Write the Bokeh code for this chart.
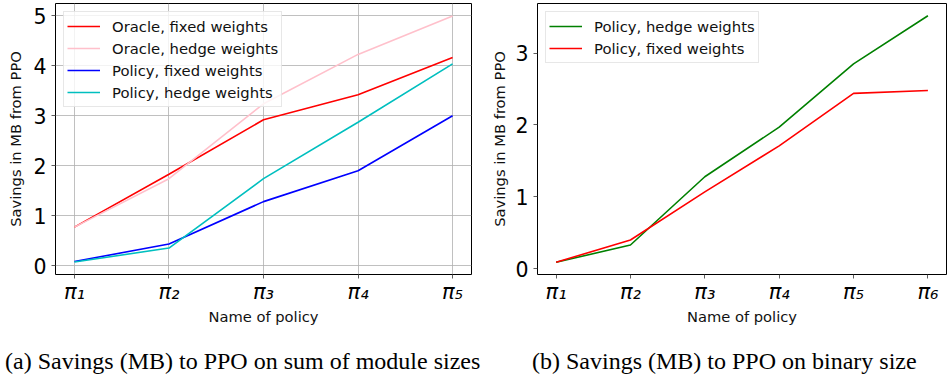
from bokeh.plotting import figure
from bokeh.models import FixedTicker, Legend, LegendItem, Div
from bokeh.layouts import row, column
from bokeh.embed import file_html
from bokeh.resources import INLINE

# ---- data ----
policies_a = [1, 2, 3, 4, 5]
labels_a = ["π₁", "π₂", "π₃", "π₄", "π₅"]
oracle_fixed = [0.77, 1.83, 2.92, 3.42, 4.17]
oracle_hedge = [0.77, 1.74, 3.24, 4.23, 5.00]
policy_fixed_a = [0.08, 0.43, 1.28, 1.90, 3.00]
policy_hedge_a = [0.07, 0.35, 1.74, 2.87, 4.04]
yticks_a = [0, 1, 2, 3, 4, 5]

policies_b = [1, 2, 3, 4, 5, 6]
labels_b = ["π₁", "π₂", "π₃", "π₄", "π₅", "π₆"]
policy_hedge_b = [0.09, 0.33, 1.28, 1.97, 2.85, 3.52]
policy_fixed_b = [0.09, 0.40, 1.07, 1.71, 2.44, 2.48]
yticks_b = [0, 1, 2, 3]

caption_a = "(a) Savings (MB) to PPO on sum of module sizes"
caption_b = "(b) Savings (MB) to PPO on binary size"

FONT = "DejaVu Sans"
SERIF = "Liberation Serif"


def style(p, xticks, xlabels, yticks, grid, ylabel_standoff):
    p.outline_line_color = "black"
    p.outline_line_width = 1
    for ax in (p.xaxis[0], p.yaxis[0]):
        ax.axis_line_color = None
        ax.major_tick_in = 0
        ax.major_tick_out = 4
        ax.major_tick_line_color = "#333333"
        ax.major_tick_line_width = 0.8
        ax.minor_tick_line_color = None
        ax.major_label_text_font = FONT
        ax.major_label_text_color = "black"
        ax.axis_label_text_font = FONT
        ax.axis_label_text_font_size = "14.7px"
        ax.axis_label_text_font_style = "normal"
        ax.axis_label_text_color = "#111111"
    p.xaxis[0].ticker = FixedTicker(ticks=xticks)
    p.xaxis[0].major_label_overrides = {t: l for t, l in zip(xticks, xlabels)}
    p.xaxis[0].major_label_text_font_size = "21px"
    p.xaxis[0].major_label_text_font_style = "italic"
    p.xaxis[0].major_label_standoff = 1
    p.xaxis[0].axis_label_standoff = 1
    p.yaxis[0].ticker = FixedTicker(ticks=yticks)
    p.yaxis[0].major_label_text_font_size = "20.5px"
    p.yaxis[0].major_label_standoff = 5
    p.yaxis[0].axis_label_standoff = ylabel_standoff
    if grid:
        for g in (p.xgrid[0], p.ygrid[0]):
            g.grid_line_color = "#b0b0b0"
            g.grid_line_width = 0.8
        p.xgrid[0].ticker = FixedTicker(ticks=xticks)
        p.ygrid[0].ticker = FixedTicker(ticks=yticks)
    else:
        p.xgrid.visible = False
        p.ygrid.visible = False


def make_legend(items):
    lg = Legend(items=items, location="top_left")
    lg.margin = 8
    lg.padding = 3
    lg.spacing = 0
    lg.label_height = 22
    lg.glyph_height = 22
    lg.glyph_width = 33
    lg.label_standoff = 12
    lg.label_text_font = FONT
    lg.label_text_font_size = "14.8px"
    lg.label_text_color = "#111111"
    lg.border_line_color = "#d0d0d0"
    lg.border_line_width = 1
    lg.background_fill_alpha = 0.8
    return lg


def caption(text, width, left):
    html = ('<div style="font-family:\'Liberation Serif\',serif;font-size:24px;'
            'line-height:24px;white-space:nowrap;color:black;'
            'margin-top:19px;margin-left:%dpx">%s</div>' % (left, text))
    return Div(text=html, width=width, height=44, margin=(0, 0, 0, 0))


FIG_H = 330

p1 = figure(width=480, height=FIG_H, output_backend="svg", toolbar_location=None,
            x_range=(0.8, 5.2), y_range=(-0.18, 5.25),
            min_border_left=55, min_border_right=9, min_border_top=3,
            min_border_bottom=56)
style(p1, policies_a, labels_a, yticks_a, True, 6)
p1.xaxis.axis_label = "Name of policy"
p1.yaxis.axis_label = "Savings in MB from PPO"
r1 = p1.line(policies_a, oracle_fixed, color="#ff0000", line_width=1.6)
r2 = p1.line(policies_a, oracle_hedge, color="#ffc0cb", line_width=1.6)
r3 = p1.line(policies_a, policy_fixed_a, color="#0000ff", line_width=1.6)
r4 = p1.line(policies_a, policy_hedge_a, color="#00bfbf", line_width=1.6)
p1.add_layout(make_legend([
    LegendItem(label="Oracle, fixed weights", renderers=[r1]),
    LegendItem(label="Oracle, hedge weights", renderers=[r2]),
    LegendItem(label="Policy, fixed weights", renderers=[r3]),
    LegendItem(label="Policy, hedge weights", renderers=[r4]),
]), "center")

p2 = figure(width=467, height=FIG_H, output_backend="svg", toolbar_location=None,
            x_range=(0.75, 6.25), y_range=(-0.08, 3.69),
            min_border_left=57, min_border_right=1, min_border_top=3,
            min_border_bottom=56)
style(p2, policies_b, labels_b, yticks_b, False, 4)
p2.xaxis.axis_label = "Name of policy"
p2.yaxis.axis_label = "Savings in MB from PPO"
s1 = p2.line(policies_b, policy_hedge_b, color="#008000", line_width=1.6)
s2 = p2.line(policies_b, policy_fixed_b, color="#ff0000", line_width=1.6)
p2.add_layout(make_legend([
    LegendItem(label="Policy, hedge weights", renderers=[s1]),
    LegendItem(label="Policy, fixed weights", renderers=[s2]),
]), "center")

d1 = caption(caption_a, 480, 5)
d2 = caption(caption_b, 467, 52)

layout = column(row(p1, p2), row(d1, d2))
open("out.html", "w").write(file_html(layout, INLINE))
